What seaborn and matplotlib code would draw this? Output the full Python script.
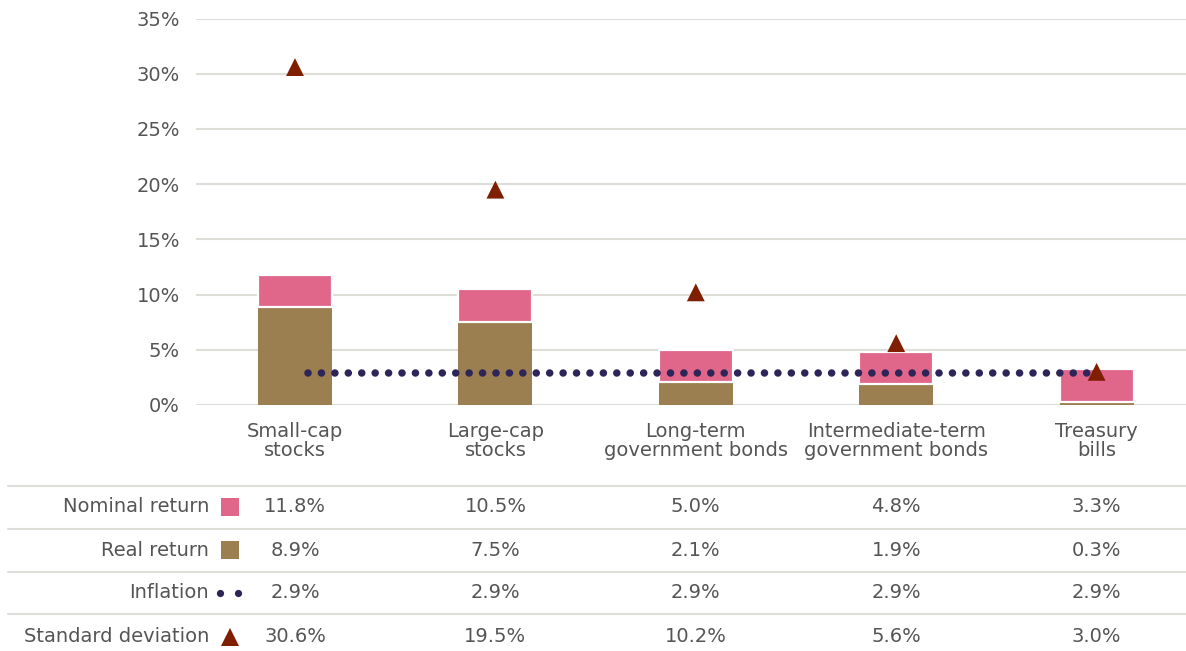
import numpy as np
import pandas as pd
import matplotlib.pyplot as plt
import seaborn as sns
from matplotlib.lines import Line2D
from matplotlib.transforms import blended_transform_factory

categories = ["Small-cap\nstocks", "Large-cap\nstocks", "Long-term\ngovernment bonds",
              "Intermediate-term\ngovernment bonds", "Treasury\nbills"]
nominal = [11.8, 10.5, 5.0, 4.8, 3.3]
real = [8.9, 7.5, 2.1, 1.9, 0.3]
inflation = [2.9, 2.9, 2.9, 2.9, 2.9]
std_dev = [30.6, 19.5, 10.2, 5.6, 3.0]
yticks = [0, 5, 10, 15, 20, 25, 30, 35]

PINK = "#e0668a"
BROWN = "#9b7f50"
NAVY = "#2d2458"
RED = "#7f1f00"
GRID = "#deded9"
TEXT = "#555555"
FS = 14

sns.set_theme(style="white")
plt.rcParams["font.family"] = ["DejaVu Sans"]

fig = plt.figure(figsize=(11.86, 6.51), dpi=100)
ax = fig.add_axes([196 / 1186, 1 - 405 / 651, 1 - 196 / 1186, (405 - 18.5) / 651])

x = np.arange(len(categories))
w = 0.37

# real return bars, nominal stacked on top
sns.barplot(x=categories, y=real, color=BROWN, width=w, saturation=1,
            linewidth=0, ax=ax, zorder=2)
ax.bar(x, np.array(nominal) - np.array(real), bottom=real, width=w, color=PINK,
       edgecolor="white", linewidth=1.6, zorder=2)

# inflation dotted line
xi = x.astype(float)
xi[0] += 0.065
xi[-1] -= 0.05
ax.plot(xi, inflation, color=NAVY, lw=5.4, linestyle=(0, (0.01, 1.78)),
        dash_capstyle="round", zorder=3)

# standard deviation triangles
sns.scatterplot(x=x, y=std_dev, marker="^", s=165, color=RED, edgecolor="none",
                ax=ax, zorder=4)

ax.set_xlim(-0.494, 4.446)
ax.set_ylim(0, 35)
ax.set_yticks(yticks)
ax.set_yticklabels([f"{t}%" for t in yticks])
ax.yaxis.grid(True, color=GRID, lw=1.5)
ax.set_axisbelow(True)
for s in ax.spines.values():
    s.set_visible(False)
ax.tick_params(axis="y", length=0, pad=11.5, labelsize=FS, labelcolor=TEXT)
ax.tick_params(axis="x", length=0, pad=12, labelsize=FS, labelcolor=TEXT)
ax.set_xticks(x)
ax.set_xticklabels(categories, linespacing=1.0)
ax.set_xlabel("")
ax.set_ylabel("")

# table below the chart
row_labels = ["Nominal return", "Real return", "Inflation", "Standard deviation"]
row_vals = [nominal, real, inflation, std_dev]
row_y = [1 - 507 / 651, 1 - 550 / 651, 1 - 593 / 651, 1 - 637 / 651]
sep_y = [1 - 486 / 651, 1 - 529 / 651, 1 - 572 / 651, 1 - 614 / 651]
for yy in sep_y:
    fig.add_artist(Line2D([8 / 1186, 1], [yy, yy], color=GRID, lw=1.5))

trans = blended_transform_factory(ax.transData, fig.transFigure)
for lab, vals, yy in zip(row_labels, row_vals, row_y):
    fig.text(209 / 1186, yy, lab, ha="right", va="center", fontsize=FS, color=TEXT)
    for xv, v in zip(x, vals):
        ax.text(xv, yy, f"{v:.1f}%", transform=trans, ha="center", va="center",
                fontsize=FS, color=TEXT, clip_on=False)

mx = 229.5 / 1186
kw = dict(transform=fig.transFigure, clip_on=False, linestyle="none")
ax.plot([mx], [row_y[0]], marker="s", markersize=13.5, color=PINK, mew=0, **kw)
ax.plot([mx], [row_y[1]], marker="s", markersize=13.5, color=BROWN, mew=0, **kw)
ax.plot([220 / 1186, 238 / 1186], [row_y[2]] * 2, marker="o", markersize=5.2, color=NAVY, mew=0, **kw)
ax.plot([mx], [row_y[3]], marker="^", markersize=13, color=RED, mew=0, **kw)

fig.savefig("out.png", dpi=100)
